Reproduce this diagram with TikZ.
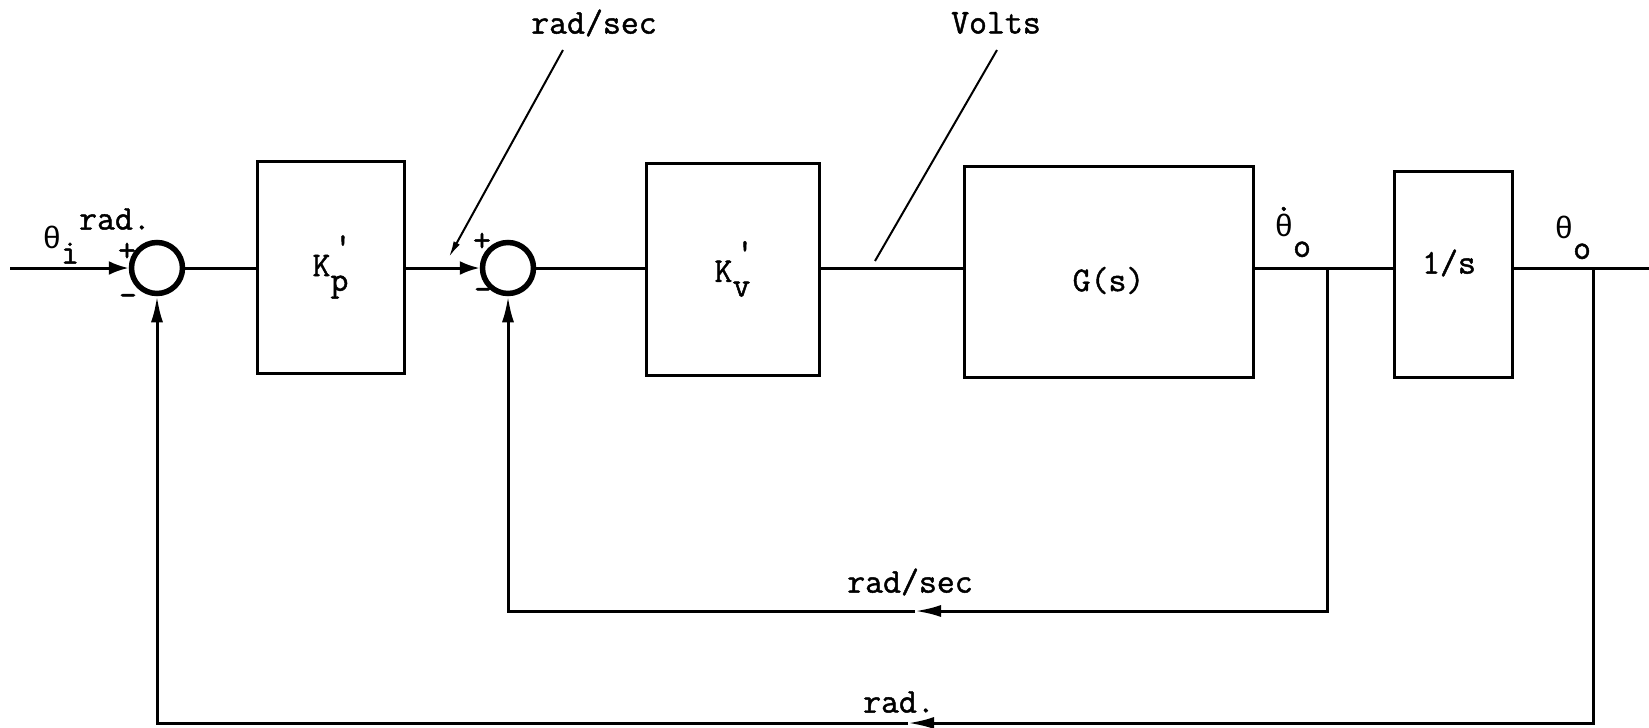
\documentclass[tikz,border=0pt]{standalone}
\usepackage{fontspec}
\setmonofont{Latin Modern Mono}[FakeBold=1.3]
\newfontfamily\thfont{Liberation Mono}
\usetikzlibrary{arrows.meta}
\newcommand{\myth}{{\thfont\fontsize{15.5}{18}\selectfont θ}}
\begin{document}
\begin{tikzpicture}[x=0.5pt,y=-0.5pt,
  font=\ttfamily\fontsize{17.4}{20}\selectfont,
  line width=1.5pt,
  blk/.style={draw, rectangle, line width=1.5pt, inner sep=0pt},
  sumc/.style={draw, circle, line width=2.75pt, minimum size=25.5pt, inner sep=0pt},
  lbl/.style={inner sep=0pt},
  bigtip/.style={-{Latex[length=10pt,width=7pt]}},
  fbtip/.style={-{Latex[length=13pt,width=6pt]}},
  leader/.style={line width=1pt}]
\useasboundingbox (0,0) rectangle (1649,728);

% blocks
\node[sumc] (s1) at (157,268) {};
\node[sumc] (s2) at (508,268) {};
\node[blk, minimum width=73.5pt, minimum height=106pt] (kp) at (330.5,267)
  {K\rlap{\kern0.1em\raisebox{0.55em}{'}}\raisebox{-0.42em}{p}};
\node[blk, minimum width=86.5pt, minimum height=106pt] (kv) at (732.5,269)
  {K\rlap{\kern0.1em\raisebox{0.55em}{'}}\raisebox{-0.42em}{v}};
\node[blk, minimum width=144.5pt, minimum height=105.5pt,
  label={[lbl, yshift=-4.5pt]center:G(s)}] (g) at (1108.5,271.5) {};
\node[blk, minimum width=59pt, minimum height=103pt,
  label={[lbl, yshift=5.5pt, xshift=-2pt]center:1/s}] (int) at (1453,274) {};

% free ends and take-off points
\coordinate (in) at (10,268);
\coordinate (out) at (1649,268);
\coordinate (t1) at (1327,268);
\coordinate (t2) at (1593,268);
\coordinate (f1) at (915,611);
\coordinate (f2) at (908,723);

% forward path
\draw[bigtip] (in) -- (s1.west);
\draw (s1.east) -- (kp.west |- s1.east);
\draw[bigtip] (kp.east |- s2.west) -- (s2.west);
\draw (s2.east) -- (kv.west |- s2.east);
\draw (kv.east |- s2.east) -- (g.west |- s2.east);
\draw (g.east |- s2.east) -- (int.west |- s2.east);
\draw (int.east |- s2.east) -- (out);

% feedback paths
\draw[fbtip] (t1) |- (f1);
\draw[fbtip] (f1) -| (s2.south);
\draw[fbtip] (t2) |- (f2);
\draw[fbtip] (f2) -| (s1.south);

% labels
\node[lbl, anchor=base west] (thi) at (41,248) {\myth\raisebox{-0.45em}{i}};
\node[lbl] (radi) at (115,219) {rad.};
\node[lbl] (p1) at (127,252) {+};
\node[lbl] (m1) at (128,300) {-};
\node[lbl] (p2) at (482,242) {+};
\node[lbl] (m2) at (483,294) {-};
\node[lbl, anchor=base west] (thdo) at (1273,236)
  {\ooalign{\hfil\raisebox{0.72em}{.}\hfil\cr\myth\cr}\raisebox{-0.6em}{o}};
\node[lbl, anchor=base west] (tho) at (1553,238) {\myth\raisebox{-0.6em}{o}};
\node[lbl] (rs1) at (594,23) {rad/sec};
\node[lbl] (vo) at (996,23) {Volts};
\node[lbl] (rs2) at (910,582) {rad/sec};
\node[lbl] (rad2) at (899,702) {rad.};

% leader lines
\coordinate (a1) at (563,50);
\coordinate (a2) at (449,257);
\coordinate (b1) at (997,50);
\coordinate (b2) at (875,261);
\draw[leader, -{Latex[length=8pt,width=3.5pt]}] (a1) -- (a2);
\draw[leader] (b1) -- (b2);
\end{tikzpicture}
\end{document}
